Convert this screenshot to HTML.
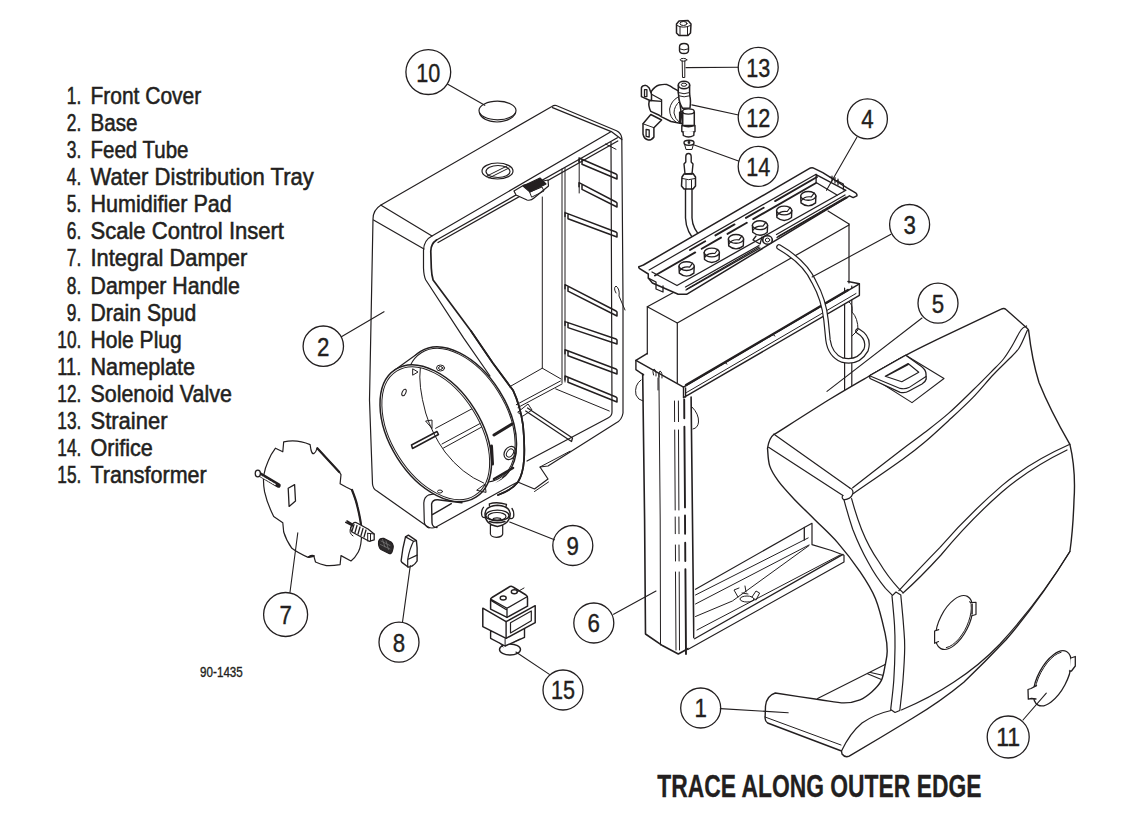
<!DOCTYPE html>
<html><head><meta charset="utf-8"><style>
html,body{margin:0;padding:0;background:#fff;}
svg{display:block;}
.lst text{font-family:"Liberation Sans",sans-serif;font-size:23.8px;fill:#231f20;stroke:#231f20;stroke-width:0.55px;}
.num text{font-family:"Liberation Sans",sans-serif;font-size:26.5px;fill:#231f20;stroke:#231f20;stroke-width:0.4px;}
.c circle{fill:none;stroke:#231f20;stroke-width:1.3;}
.ln{fill:none;stroke:#231f20;stroke-width:1.2;stroke-linejoin:round;stroke-linecap:round;}
.wf{fill:#fff;}
.th{fill:none;stroke:#231f20;stroke-width:1;stroke-linejoin:round;stroke-linecap:round;}
</style></head><body>
<svg width="1144" height="824" viewBox="0 0 1144 824">
<g class="lst">
<text x="66.8" y="103.7" textLength="14.5" lengthAdjust="spacingAndGlyphs">1.</text><text x="90.5" y="103.7" textLength="110.7" lengthAdjust="spacingAndGlyphs">Front Cover</text>
<text x="66.8" y="130.8" textLength="14.5" lengthAdjust="spacingAndGlyphs">2.</text><text x="90.5" y="130.8" textLength="47.0" lengthAdjust="spacingAndGlyphs">Base</text>
<text x="66.8" y="157.9" textLength="14.5" lengthAdjust="spacingAndGlyphs">3.</text><text x="90.5" y="157.9" textLength="98.0" lengthAdjust="spacingAndGlyphs">Feed Tube</text>
<text x="66.8" y="185.0" textLength="14.5" lengthAdjust="spacingAndGlyphs">4.</text><text x="90.5" y="185.0" textLength="223.3" lengthAdjust="spacingAndGlyphs">Water Distribution Tray</text>
<text x="66.8" y="212.1" textLength="14.5" lengthAdjust="spacingAndGlyphs">5.</text><text x="90.5" y="212.1" textLength="141.3" lengthAdjust="spacingAndGlyphs">Humidifier Pad</text>
<text x="66.8" y="239.2" textLength="14.5" lengthAdjust="spacingAndGlyphs">6.</text><text x="90.5" y="239.2" textLength="193.5" lengthAdjust="spacingAndGlyphs">Scale Control Insert</text>
<text x="66.8" y="266.4" textLength="14.5" lengthAdjust="spacingAndGlyphs">7.</text><text x="90.5" y="266.4" textLength="156.8" lengthAdjust="spacingAndGlyphs">Integral Damper</text>
<text x="66.8" y="293.5" textLength="14.5" lengthAdjust="spacingAndGlyphs">8.</text><text x="90.5" y="293.5" textLength="149.4" lengthAdjust="spacingAndGlyphs">Damper Handle</text>
<text x="66.8" y="320.6" textLength="14.5" lengthAdjust="spacingAndGlyphs">9.</text><text x="90.5" y="320.6" textLength="105.8" lengthAdjust="spacingAndGlyphs">Drain Spud</text>
<text x="57.3" y="347.7" textLength="24.0" lengthAdjust="spacingAndGlyphs">10.</text><text x="90.5" y="347.7" textLength="91.2" lengthAdjust="spacingAndGlyphs">Hole Plug</text>
<text x="57.3" y="374.8" textLength="24.0" lengthAdjust="spacingAndGlyphs">11.</text><text x="90.5" y="374.8" textLength="104.6" lengthAdjust="spacingAndGlyphs">Nameplate</text>
<text x="57.3" y="401.9" textLength="24.0" lengthAdjust="spacingAndGlyphs">12.</text><text x="90.5" y="401.9" textLength="141.3" lengthAdjust="spacingAndGlyphs">Solenoid Valve</text>
<text x="57.3" y="429.0" textLength="24.0" lengthAdjust="spacingAndGlyphs">13.</text><text x="90.5" y="429.0" textLength="77.0" lengthAdjust="spacingAndGlyphs">Strainer</text>
<text x="57.3" y="456.1" textLength="24.0" lengthAdjust="spacingAndGlyphs">14.</text><text x="90.5" y="456.1" textLength="62.3" lengthAdjust="spacingAndGlyphs">Orifice</text>
<text x="57.3" y="483.2" textLength="24.0" lengthAdjust="spacingAndGlyphs">15.</text><text x="90.5" y="483.2" textLength="116.1" lengthAdjust="spacingAndGlyphs">Transformer</text>
</g>
<g id="base" class="ln">
<!-- outer silhouette -->
<path d="M381,205 L551.9,106.4 Q554,105 556.2,105.5 L616.5,130.8 Q621,133 621.8,137.8 L623,300 L623,413 Q622,420 616,423 L548,466 L540,467 L548,479 L534.5,489 L517.7,482"/>
<path d="M381,205 Q373,210 373,219 L369.5,400 L372.5,484 Q373,489 377,491 L428,527"/>
<path d="M373.5,220 L424,249"/>
<path d="M381.5,205.5 L432,236 L611.3,131.6 L621.8,139.6 M552.5,107.6 L611.3,131.6"/>
<path d="M432,236 Q424,240 423.5,250 L423.5,268 Q423.8,276 425.8,280 L463.7,338.2 L490,376"/>
<path d="M436.5,240 Q430.5,244 430.8,252 L431.3,268 Q431.6,275 433.1,280 L471,331 L492.8,363 L513.2,390.6 Q520,405 523,425 Q525,445 524,460 Q523,474 518,482 Q512,490 498,495" style="stroke-width:1.7"/>
<path d="M436.5,240 L617.4,137.8 M438,242.5 L617.8,141" style="stroke-width:1.3"/>
<path d="M611,142 L612,412 Q612,416 608,418 L527,461"/>
<path d="M555.7,388.9 L609.3,411 M560.4,381 L516.3,404.7 M562,384 L518,407.5" class="th"/>
<path d="M525.7,411 L571.5,441.5 L572.5,438 L527.5,408" style="stroke-width:1.3"/>
<path d="M518,412 L528,404 L532,410 L523,416 Z" class="th"/>
<path d="M542.3,197 L542.3,368.2 L509.4,386.9" class="th"/>
<path d="M542.3,368.2 L561,379" class="th"/>
<path d="M562,169 L562,383 M565,168 L565,382" class="th"/>
<path d="M579.2,160 L579.2,193" class="th"/>
<path d="M605.6,144 L616,149.3" class="th"/>
<path d="M540,467 L570,451.2" class="th"/>
<path d="M534.5,491.5 L548.5,482" class="th"/>
<!-- bottom lip -->
<path d="M428,527 Q432,529 436,527 L499.5,491.7 L517.7,482"/>
<path d="M433.8,494 L429,494.8 Q424,497 423.8,503 L424.3,522 Q425,526.5 429,528" style="stroke-width:1.2"/>
<path d="M462,502.7 L437.7,499.8 Q432.5,499.5 431.6,504 L432,523 Q432.5,527.5 437,527.5 M432.8,514.4 L451.3,503.7" style="stroke-width:1.4"/>
<!-- latch -->
<path d="M514,191 L524,185 L548,180 L548.5,186 L534,198 Q531,201 527,200 L516,195 Z" fill="#fff"/>
<path d="M523,186 L540,178 L546,184 L530,192 Z" fill="#231f20"/>
<path d="M530,192 L542,187 L544,191 L532,197 Z" class="th"/>
<!-- drain hole top -->
<ellipse cx="497.5" cy="171" rx="15.5" ry="8"/>
<ellipse cx="498" cy="171.5" rx="12" ry="6"/>
<path d="M487,176 L507,166 M489,178 L509,168" class="th"/>
<!-- clip at right -->
<path d="M616,293 Q613,288 616,286 Q620,289 619,296 L625,310" class="th"/>
<!-- hole plug -->
<ellipse cx="497.5" cy="110.5" rx="18.5" ry="9.3" fill="#fff"/>
<path d="M479.5,113 Q482,121 497,122 Q512,121 515.5,113" />
<path d="M579,158 L616,174 L617,175 L617,179 L582,164.3 L582,160.3 M579,158 L579,162" style="stroke-width:1.5"/>
<path d="M579,182.7 L616,202 L617,203 L617,207 L582,189.3 L582,185.3 M579,182.7 L579,186.7" style="stroke-width:1.5"/>
<path d="M565,212.6 L616,232 L617,233 L617,237 L568,218.7 L568,214.7 M565,212.6 L565,216.6" style="stroke-width:1.5"/>
<path d="M565,284.7 L616,311 L617,312 L617,316 L568,291.2 L568,287.2 M565,284.7 L565,288.7" style="stroke-width:1.5"/>
<path d="M565,321.6 L616,339 L617,340 L617,344 L568,327.6 L568,323.6 M565,321.6 L565,325.6" style="stroke-width:1.5"/>
<path d="M565,349.7 L616,369 L617,370 L617,374 L568,355.8 L568,351.8 M565,349.7 L565,353.7" style="stroke-width:1.5"/>
<path d="M565,376 L616,397 L617,398 L617,402 L568,382.2 L568,378.2 M565,376 L565,380" style="stroke-width:1.5"/>
</g>

<g id="collar" class="ln">
<g transform="translate(25,-18)"><ellipse cx="435.75" cy="433.25" rx="75.4" ry="45.7" transform="rotate(57.8 435.75 433.25)" fill="#fff" style="stroke-width:1.5"/></g>
<polygon points="394.1,370.5 419.1,352.5 502.4,478.1 477.4,496.1" fill="#fff" stroke="none"/>
<path d="M394.1,370.5 L419.1,352.5"/>
<g transform="translate(25,-18)"><ellipse cx="435.75" cy="433.25" rx="73.9" ry="44.3" transform="rotate(57.8 435.75 433.25)" class="th"/></g>
<path d="M471,331 L492.8,363 L513.2,390.6 Q520,405 523,425 Q525,445 524,460 Q523,474 518,482 Q512,490 498,495" style="stroke-width:1.7"/>

<ellipse cx="435.75" cy="433.25" rx="75.4" ry="45.7" transform="rotate(57.8 435.75 433.25)" fill="#fff" style="stroke-width:1.5"/>
<ellipse cx="435.75" cy="433.25" rx="73.4" ry="43.8" transform="rotate(57.8 435.75 433.25)" class="th"/>
<clipPath id="cin"><ellipse cx="435.75" cy="433.25" rx="73.4" ry="43.8" transform="rotate(57.8 435.75 433.25)"/></clipPath>
<g clip-path="url(#cin)">
<path d="M420.3,368.2 Q418,385 425.7,413 Q432,434 445,452 Q462,474 483.6,483" class="th"/>
<path d="M435.6,428.3 L520,383" class="th"/>
<path d="M442,444 L520,402 M443.5,448 L520,406" class="th"/>
<path d="M411.5,445 L437,431.5 L438.5,434.5 L412.5,448.5 Z" class="th" style="stroke-width:1.5"/>
</g>
<ellipse cx="404" cy="392.5" rx="1.8" ry="3.5" transform="rotate(25 404 392.5)" class="th"/>
<ellipse cx="440.5" cy="368" rx="4" ry="3" class="th"/>
<ellipse cx="440.5" cy="368" rx="2" ry="1.5" class="th"/>
<path d="M413,369 L418,372 L413,375 Z" class="th"/>
<path d="M426,421 L432,420 L432,428 Z" class="th"/>
<path d="M477,490 L485,484 L486,492 Z" class="th"/>
<ellipse cx="440" cy="491.5" rx="2.5" ry="1.5" class="th"/>
<ellipse cx="510" cy="453" rx="5.5" ry="7" transform="rotate(35 510 453)"/>
<ellipse cx="510" cy="453" rx="3" ry="4.5" transform="rotate(35 510 453)" class="th"/>
<path d="M494,435 L512,424" style="stroke-width:3"/>
<path d="M492.5,464 L491.5,446" style="stroke-width:3"/>
<path d="M494,479 L513,468" style="stroke-width:2.5"/>
</g>

<g id="pad" class="ln">
<!-- pad box -->
<path class="wf" d="M647.3,306.8 L828,210 L849,222 L849,283 L683,387 L647.3,354 Z" style="stroke:none"/>
<path d="M647.3,306.8 L647.3,354 M677.3,323 L677.3,383 M849,224 L849,283"/>
<path d="M647.3,306.8 L677.3,323 L849,225 M647.3,306.8 L700,278 M828,211 L849,224"/>
</g>

<g id="insert" class="ln">
<!-- right post -->
<path d="M844.6,288 L844.6,392 M851.8,286 L851.8,392" />
<!-- left post -->
<path class="wf" d="M642.7,370 L645.5,634 L662.8,645.8 L678.3,654 L694.5,645 L691,397 L685.3,394 Z" style="stroke:none"/>
<path d="M642.7,374 L644.6,520 L645.5,634 L662.8,645.8 L678.3,654 L688.3,648.5" style="stroke-width:1.6"/>
<path d="M658.9,374 L660.2,520 L660.5,645" class="th"/>
<path d="M674.5,401 L674.6,421.6 M674.7,430 L675.2,510 M675.2,517 L675.3,533.7 M675.4,545 L675.5,561 M675.5,572 L676.0,650 M678.4,401 L678.5,421.6 M678.5,430 L678.9,510 M678.9,517 L679.0,533.7 M679.0,545 L679.1,561 M679.2,572 L679.5,650" class="th"/>
<path d="M684.2,399.5 L684.3,418.2 M684.4,426.7 L685.0,507.4 M685.0,515.5 L685.1,533.7 M685.2,542.8 L685.3,561 M685.4,569.2 L686.0,654" style="stroke-width:1.9"/>
<path d="M691.1,397 L693.8,637.6" style="stroke-width:1.6"/>
<path d="M641,380 Q634,385 636,395 Q638,400 643,401" class="th"/>
<path d="M692,407 Q699,414 698.5,422 Q698,428 693,429" class="th"/>
<!-- top rim -->
<path class="wf" d="M683.5,387.1 L859.4,283.8 L859.4,295.3 L683.5,397.7 Z" style="stroke:none"/>
<path d="M647,353.6 L635.9,360.4 L683.5,387.1 L859.4,283.8 L848,281.5" style="stroke-width:1.5"/>
<path d="M635.9,360.4 L635.9,369.7 L643.6,374.8 M683.5,387.1 L683.5,397.7 L859.4,295.3 L859.4,283.8 M685.6,388 L685.6,397" style="stroke-width:1.4"/>
<path d="M686,385 L848,290" style="stroke-width:2.2"/>
<path d="M686.5,392.5 L856,293.5" class="th"/>
<path d="M722,365 Q724,361 727,364 M770,337 Q772,333 775,336" class="th"/>
<path d="M653.5,375 Q652,371 654,369 Q656.5,370 656,376 M659,377 Q658,373 660,371 Q662.5,372 662,378 M658,378 L658,390" class="th"/>
<!-- bottom rail -->
<path class="wf" d="M695.5,589.3 L812,523.3 L844,555.3 L844,562 L687.8,649.5 L694.6,638.8 Z" style="stroke:none"/>
<path d="M695.5,589.3 L804.3,527.5 L812,523.3 L812,544.7 L831.5,550.5 L844,555.3 L844,562 L687.8,649.5"/>
<path d="M694.6,638.8 L843,554.4 M804.3,527.5 L804.3,540" style="stroke-width:1.3"/>
<path d="M695.5,595 L808.2,537.9 M695.5,604 L809,545 M695.5,616.5 L732.4,601 L809,545.6 M697,630 L840,555" class="th"/>
<path d="M742,593 L748,594 M738,597 L734,590 L739,588 M752,597 L756,591 L759.6,593 L756,600 M746,592 L745,586" class="th"/>
<ellipse cx="747" cy="599" rx="7" ry="3" class="th"/>
</g>

<g id="tube3" class="ln">
<path d="M779,247 Q805,262 814,282 Q824,300 826,320 L828,340 Q830,355 842,360 Q858,364 866,350 Q870,338 858,331" fill="none" style="stroke:#231f20;stroke-width:5.6"/>
<path d="M779,247 Q805,262 814,282 Q824,300 826,320 L828,340 Q830,355 842,360 Q858,364 866,350 Q870,338 858,331" fill="none" style="stroke:#fff;stroke-width:3.2"/>
<path d="M849,302 Q853,304 852,312 Q858,318 858,330 L852,336" class="th"/>
</g>

<g id="valve" class="ln" fill="#fff">
<!-- nut -->
<path d="M676.5,24 L679,21 L688,20.5 L691,24 L690.5,33 L688,35.5 L679,35.5 L676.5,33 Z" style="stroke-width:1.5"/>
<path d="M677,25.5 Q683,29 690.5,25.5 M680,26.5 L680,35 M687.5,26.5 L687.5,35" class="th"/>
<ellipse cx="683.5" cy="23.5" rx="3.5" ry="2" class="th"/>
<!-- ferrule -->
<path d="M679.5,47 Q679.5,43.5 684,43.5 Q688.5,43.5 688.5,47 L688.5,50.5 Q688.5,53.5 684,53.5 Q679.5,53.5 679.5,50.5 Z" style="stroke-width:1.4"/>
<path d="M680,49 Q684,51 688,49" class="th"/>
<!-- strainer -->
<ellipse cx="683.5" cy="59.8" rx="3.3" ry="1.4" class="th"/>
<path d="M682.2,61 L682.5,77.5 L684.8,77.5 L684.8,61" class="th"/>
<!-- coil body -->
<path class="wf" d="M651.5,91.2 Q655,86 659.3,85 Q664,84 667,84.6 Q670.5,86 673.3,88.1 L678.3,90.8 L682.6,123.8 L671,121.5 L661.6,116.8 L659.3,115.3 L650.8,111.4 Q648,106 649.2,101.3 Z" style="stroke-width:1.5"/>
<path d="M678,97 Q671,101 669.6,109 Q669.5,118 676,122 M680,101 Q674,106 674,113 Q675,119 679,122" class="th"/>
<!-- top ear -->
<path class="wf" d="M651.5,94.3 L649.2,88.1 Q646.5,85 644.5,85.4 Q641,86 641.4,89 L641.4,96.6 L650,100.5 L651.5,100.5 Z" style="stroke-width:1.5"/>
<path d="M644.5,89.7 L646.9,89.7 L646.9,96.6 L644.5,96.6 Z" class="th" style="stroke-width:1.3"/>
<path d="M651.5,94.3 L661.6,99.7 L661.6,115.3 M650,100.5 L661.6,101.3" style="stroke-width:1.3"/>
<!-- bottom ear -->
<path class="wf" d="M643,123.8 L650.8,114.5 L661.6,120 L653.9,127.7 L653.9,137 Q652,140 648.4,140.1 Q644,139 643,134 Z" style="stroke-width:1.5"/>
<path d="M643,123.8 L653.9,127.7" class="th"/>
<path d="M646.1,129.3 L649.2,130 L649.2,137 L646.1,136.3 Z" class="th" style="stroke-width:1.3"/>
<!-- inlet tube -->
<path class="wf" d="M678.3,85.4 L678.3,92.4 L678.7,96 Q679,103 682.6,108.3 L690,108 Q691,100 689.8,96 L689.6,92.4 L689.6,85.4 Z" style="stroke-width:1.5"/>
<ellipse cx="684" cy="85" rx="5.7" ry="3.8" class="wf" style="stroke-width:1.6"/>
<ellipse cx="684" cy="84.7" rx="2.7" ry="1.6" class="th"/>
<path d="M678.5,92.6 Q684,95 689.6,92.6 M678.7,95.8 Q684,98 689.8,95.8" class="th"/>
<!-- outlet -->
<path class="wf" d="M682.6,112 L682.6,125.4 L694.3,125.4 L694.3,112 Z" style="stroke-width:1.5"/>
<ellipse cx="688.4" cy="111.5" rx="5.8" ry="2.6" class="wf" style="stroke-width:1.4"/>
<path class="wf" d="M681.8,125.4 L681.8,131.6 Q688.4,134 695,131.6 L695,125.4 Q688.4,128 681.8,125.4 Z" style="stroke-width:1.4"/>
<path class="wf" d="M683,131.6 L683.3,135.5 Q688.4,138.5 693.8,135.5 L694,131.6" style="stroke-width:1.4"/>
<path d="M680.5,111 L682.6,112 L682.6,124 L680.5,123 Z M679.5,112 L679.5,123" class="th" style="stroke-width:1.2"/>
<!-- orifice -->
<ellipse cx="689" cy="142.8" rx="5" ry="2.5" style="stroke-width:1.4"/>
<path d="M684.5,144 L686,149.5 L692,149.5 L693.5,144" class="th"/>
<circle cx="689" cy="142.5" r="0.8" fill="#231f20"/>
<!-- fitting -->
<path d="M685.8,157 Q685.8,153.5 688.5,153.5 Q691.2,153.5 691.2,157 L691.2,162 L693,164 L692,174 L685,174 L684,164 L685.8,162 Z" style="stroke-width:1.4"/>
<path d="M682,177 L684,174 L693,173.5 L695.5,177 L695.5,186 L693,189 L684,189 L681.5,186 Z" style="stroke-width:1.5"/>
<path d="M682,178.5 Q688.5,181 695.5,178.5 M686,180 L686,189 M691.5,180 L691.5,189" class="th"/>
<!-- feed tube -->
<path d="M685.5,189 L685.5,218 Q686,232 697,243 M692,189 L692,218 Q692.5,229 702,238" fill="none" style="stroke-width:1.4"/>
</g>

<g id="tray" class="ln">
<path class="wf" d="M643.4,265 L808.3,169.1 Q811,167.5 813.1,167.9 L822.8,172.7 L847.1,187.9 L855.6,192.8 Q857.5,194.5 856.8,195.8 L853.2,197.6 L849.5,195.8 L686.6,294.3 L678.2,294.3 L652.4,283 L648.3,278.1 L648.3,274 L639.3,268.3 Q638,266.5 639.3,266.6 Z" style="stroke-width:1.5"/>
<path d="M649.1,269.9 L816.1,174.2" style="stroke-width:1.2"/>
<path d="M816.1,174.6 L816.1,182.5 L837.4,195.2 M816.1,174.6 L845.9,190.3 L677,285.5 L652,272" style="stroke-width:1.3"/>
<path d="M655.0,275.5 L695.2,252.4 M701.7,248.7 L721.0,237.6 M727.5,233.9 L746.8,222.8 M753.2,219.1 L816.0,183.0" style="stroke-width:1.9"/>
<path d="M690.0,250.0 L705.2,241.2 M715.4,235.4 L734.5,224.4 M745.9,217.9 L763.7,207.7 M775.1,201.1 L817.0,177.0" style="stroke-width:1.9"/>
<path d="M648.3,278.1 L656,282 L656,289 L663,292 L663,286" style="stroke-width:1.3"/>
<path d="M686,290 L760,248 M685.5,287 L759,245.5 M777,237.5 L847.1,197.6 M776.5,234.5 L845,195" style="stroke-width:1.3"/>
<path d="M687,289 L759,247 M778,236.5 L846,197" style="stroke-width:1.2;stroke-dasharray:0.8 0.8"/>
<path d="M830,177 L843.4,184 L843.4,190 M832,176 L832,181 M835,177.5 L835,183 M838,179 L838,185" class="th" style="stroke-width:1.2"/>
<path class="wf" d="M679.0,266.1 L679.3,273.1 Q686.6,279.1 693.9,273.1 L694.2,266.1" style="stroke-width:1.4"/>
<ellipse class="wf" cx="686.6" cy="266.1" rx="7.6" ry="4.4" style="stroke-width:1.4"/>
<path d="M679.5,271.1 Q682.6,266.1 689.6,267.1 L692.6,263.1" class="th" style="stroke-width:1.2"/>
<path class="wf" d="M704.2,252.5 L704.5,259.5 Q711.8,265.5 719.1,259.5 L719.4,252.5" style="stroke-width:1.4"/>
<ellipse class="wf" cx="711.8" cy="252.5" rx="7.6" ry="4.4" style="stroke-width:1.4"/>
<path d="M704.7,257.5 Q707.8,252.5 714.8,253.5 L717.8,249.5" class="th" style="stroke-width:1.2"/>
<path class="wf" d="M728.4,238.9 L728.7,245.9 Q736.0,251.9 743.3,245.9 L743.6,238.9" style="stroke-width:1.4"/>
<ellipse class="wf" cx="736.0" cy="238.9" rx="7.6" ry="4.4" style="stroke-width:1.4"/>
<path d="M728.9,243.9 Q732.0,238.9 739.0,239.9 L742.0,235.9" class="th" style="stroke-width:1.2"/>
<path class="wf" d="M752.4,225.2 L752.7,232.2 Q760.0,238.2 767.3,232.2 L767.6,225.2" style="stroke-width:1.4"/>
<ellipse class="wf" cx="760.0" cy="225.2" rx="7.6" ry="4.4" style="stroke-width:1.4"/>
<path d="M752.9,230.2 Q756.0,225.2 763.0,226.2 L766.0,222.2" class="th" style="stroke-width:1.2"/>
<path class="wf" d="M776.6,210.5 L776.9,217.5 Q784.2,223.5 791.5,217.5 L791.8,210.5" style="stroke-width:1.4"/>
<ellipse class="wf" cx="784.2" cy="210.5" rx="7.6" ry="4.4" style="stroke-width:1.4"/>
<path d="M777.1,215.5 Q780.2,210.5 787.2,211.5 L790.2,207.5" class="th" style="stroke-width:1.2"/>
<path class="wf" d="M800.7,195.9 L801.0,202.9 Q808.3,208.9 815.6,202.9 L815.9,195.9" style="stroke-width:1.4"/>
<ellipse class="wf" cx="808.3" cy="195.9" rx="7.6" ry="4.4" style="stroke-width:1.4"/>
<path d="M801.2,200.9 Q804.3,195.9 811.3,196.9 L814.3,192.9" class="th" style="stroke-width:1.2"/>
<ellipse cx="767.5" cy="240" rx="4.8" ry="4.2" class="wf" style="stroke-width:1.6"/>
<ellipse cx="767.5" cy="240" rx="2.2" ry="1.9" class="th"/>
<path d="M753,240 L760,244 L762,237 M756,236 L753,240" class="th" style="stroke-width:1.3"/>
</g>
<g id="cover" class="ln">
<path class="wf" d="M774.6,434.2 C783.6,428.5 814.3,408.8 828.5,400.0 C842.7,391.2 847.1,388.8 860.0,381.3 C872.9,373.9 892.4,362.5 905.7,355.3 C919.0,348.1 924.1,345.8 940.0,338.1 C955.9,330.4 991.0,314.0 1001.2,309.2 Q1004,307.5 1006,309.5 L1027.4,328.5 Q1029,330 1028.7,331.1 Q1032,360 1039,382.5 Q1050,410 1069.9,444.3 Q1076,470 1074,500 Q1073,530 1069.9,551.5 Q1040,600 1006,639.8 Q985,662 963.8,682.3 Q940,702 912.9,718 Q880,738 849.2,756.2 Q845,758 842,754 L841.5,751 L767.6,723 Q765,721 765.1,718 L765.5,706 Q766.4,696 775.3,693 C782.5,694.1 807.0,697.9 818.5,699.5 C830.0,701.1 837.1,702.9 844.0,702.9 C850.9,702.9 855.4,701.6 860.0,699.8 C864.6,698.0 868.1,695.2 871.7,692.0 C875.3,688.8 879.1,684.9 881.4,680.4 C883.6,675.9 884.2,669.8 885.2,664.9 C886.2,660.0 887.2,656.5 887.2,651.3 C887.2,646.1 887.2,642.5 885.2,633.8 C883.2,625.0 879.7,609.1 875.5,598.8 C871.3,588.4 866.4,581.1 860.0,571.7 C853.6,562.3 844.8,550.9 837.4,542.4 C830.0,533.9 822.9,527.8 815.6,520.5 C808.3,513.2 799.9,505.2 793.7,498.7 C787.5,492.1 782.4,486.7 778.4,481.2 C774.4,475.7 771.5,471.4 769.7,465.9 C767.9,460.4 767.9,451.3 767.5,448.4 Q769,438 774,434.2 Z" style="stroke-width:1.4"/>
<path d="M774,434.2 L849.5,487.8 M768.6,447.3 L842.9,495.4"/>
<path d="M849.5,487.8 Q854,490 852.7,494 Q851,499 844,499.8 Q841,498 842.9,495.4"/>
<path d="M852.7,487.8 C860.6,481.7 888.1,460.2 900.0,451.0 C911.9,441.8 916.2,439.1 924.3,432.8 C932.4,426.5 940.4,420.5 948.5,413.4 C956.6,406.3 965.7,397.2 972.8,390.3 C979.9,383.4 985.9,377.3 991.0,372.1 C996.1,366.9 1000.0,363.4 1003.5,359.0 C1007.0,354.6 1009.1,350.8 1012.0,346.0 C1014.9,341.2 1018.6,333.3 1021.0,330.0 C1023.4,326.7 1025.7,326.7 1026.6,326.0"/>
<path d="M853.5,493.5 C861.6,487.8 890.6,468.0 902.4,459.5 C914.2,451.0 916.6,449.0 924.3,442.5 C932.0,436.0 940.4,428.2 948.5,420.7 C956.6,413.2 965.4,405.2 972.8,397.6 C980.2,390.0 987.1,381.3 993.0,375.0 C998.9,368.7 1003.6,364.5 1008.0,360.0 C1012.4,355.5 1015.9,353.0 1019.1,348.0 C1022.3,343.0 1026.0,333.2 1027.4,330.2"/>
<path d="M844,499.8 Q848,515 852.7,529.3 Q860,548 868,562 Q876,577 885.5,588.3 L892,594.9"/>
<path d="M851.6,498.7 Q856,515 861.5,529.3 Q869,548 879,562 Q888,577 898.6,588.3 L903,592.7"/>
<path d="M1069.9,444.3 Q1030,462 1001.9,485.6 Q968,515 940,547.4 Q918,570 898.9,590.6"/>
<path d="M1067,450 Q1030,468 1002,492 Q970,520 941,555 Q920,578 903,593"/>
<path d="M892.0,595.9 C892.4,600.8 894.0,616.4 894.5,625.0 C895.0,633.6 895.1,638.2 895.0,647.4 C894.9,656.6 894.5,669.6 893.8,680.0 C893.1,690.4 891.2,704.6 890.7,709.5 M900.8,595.0 C901.2,600.0 902.9,616.3 903.5,625.0 C904.1,633.7 904.8,638.2 904.7,647.4 C904.6,656.6 903.8,669.5 903.0,680.0 C902.2,690.5 900.3,705.4 899.8,710.5 M892,595.9 L896,592 L900.8,595 M890.7,709.5 L895,712.5 L899.8,710.5"/>
<path d="M841.5,751 Q850,733 862,723 Q875,714 891,710.5 M901.4,710 Q930,698 953.6,682.3 Q980,665 1000,644 Q1040,600 1069.9,551.5"/>
<path d="M765,717 L841,745" class="th"/>
<path d="M817.6,698.6 L885.6,664.2 M869.5,672.3 L882.6,675.3 M866.9,673.6 L881.4,679.5" class="th" style="stroke-width:1.1"/>
<!-- top tab -->
<path d="M869.5,375.8 L905.7,355.3 L944,378.5 L912,402.6 Z" class="th" style="stroke-width:1.1"/>
<path class="wf" d="M869.5,375.8 L905.7,355.3 L921.5,366.5 Q926,370 926,374 L926.2,379 Q925.5,382 922,384 L909,391 Q905,393.5 900.2,392.3 L870,378.5 Z" style="stroke-width:1.3"/>
<path d="M869.5,375.8 L900.2,388.4 Q905,389.5 908.9,387.6 L926,376.5" class="th" style="stroke-width:1.1"/>
<path d="M885.2,376.2 L908.1,363.5 L918.8,372.2 L901.8,381.7 Z M887.5,375.5 L908,364.8" class="th" style="stroke-width:1.1"/>
<!-- hole -->
<ellipse cx="954.1" cy="622.5" rx="29.3" ry="14.5" transform="rotate(-63 954.1 622.5)" class="wf" style="stroke-width:1.2"/>
<path d="M946.3,647.6 L949.3,646.6 L952.4,644.8 L955.6,642.2 L958.8,638.9 L961.7,635.0 L964.5,630.7 L966.8,626.1 L968.7,621.3 L970.1,616.6 L970.9,612.1 L971.2,608.0 L970.8,604.4 L969.8,601.4" class="th" style="stroke-width:1"/>
<path class="wf" d="M970.5,602.5 L976,602.3 L976,614.5 L971,616" style="stroke-width:1.2"/>
<path d="M972,604 L972,614" style="stroke-width:1.6"/>
<path class="wf" d="M938.7,629.6 L934.6,631 L934.6,643.3 L938.5,641.5" style="stroke-width:1.2"/>
</g>

<g id="damper" class="ln">
<path class="wf" d="M283.7,441.8 Q297.3,439 310.1,444.6 L311,450 Q312,454 313.7,453.7 Q316,452 316.4,450 L317.3,448.2 L339.2,471.9 L341,474.6 L340.1,483.7 L346.5,487.3 L352,490 Q355,497 357.4,506.4 Q361,521 361.5,530 Q362,545 358.3,552 Q355,558 351,561 L341,555.6 L340.1,564.7 Q332,566 326.4,565.6 Q320,564 315.5,562 L313.7,555.6 Q311,555 309.2,556.5 L308.2,557.4 Q298,553 291.9,548.3 Q286,540 283.7,532 L282.8,522.8 L273.7,516.5 Q267,503 264.6,491.9 Q263,483 263.7,475.5 Q265,468 268.2,461 Q271,454 275.5,448.2 L282.8,451.8 Z" style="stroke-width:1.2"/>
<path d="M317.3,448.2 L339.2,471.9 M352,490 Q356,500 357.4,506.4 Q361,521 361.5,530 M313.7,556 L309,557" style="stroke-width:2.2"/>
<path d="M257.5,473 L278.5,485.5" style="stroke:#231f20;stroke-width:4.5"/>
<path d="M259,475 L276,485" style="stroke:#fff;stroke-width:1.5;stroke-dasharray:1 1.2"/>
<ellipse cx="257.8" cy="473.5" rx="2.6" ry="3.3" class="wf" style="stroke-width:1.3"/>
<path d="M288.2,488.2 L294.6,484.6 L295.5,501 L289.1,506.4 Z" style="stroke-width:1.3"/>
<!-- pivot/shaft -->
<path class="wf" d="M353,523.5 Q355,521.5 357,523 L368,529 L374.2,534 L374.2,539.8 L369.1,541.3 L352,532 Q349,528 353,523.5 Z" style="stroke-width:1.3"/>
<path d="M345.8,522.4 L353,526 M347,521 L352,524" style="stroke-width:1.6"/>
<path d="M354,524.5 L352,531 M357,525.5 L355,532.5 M360,527 L358,534 M363,528.5 L361,535.5 M366,530 L364,537" class="th" style="stroke-width:1.3"/>
<path d="M367.7,533.3 L374.2,534 M367.7,533.3 L367.7,541 M370.5,534 L370.5,541" class="th"/>
<path d="M351,527 Q348,533 353,536" class="th"/>
<!-- spring -->
<path d="M378.6,541.3 Q379.5,538 383.7,538.4 L391,542 Q394.5,545 392.4,550.8 Q391.5,554 389.5,553.7 L381,549.5 Q378,547 378.6,541.3 Z" fill="#2d2a2b" style="stroke-width:1.2"/>
<path d="M381,541 L390,545.5 M380.5,544.5 L390,549 M382.5,539.5 L385,547 M386,541 L388.5,549.5" style="stroke:#888;stroke-width:0.6"/>
<!-- handle -->
<path class="wf" d="M405.5,536.9 L408.4,535.1 L416.4,540.6 Q417.5,548 417.1,555.1 L417.1,561 Q415,564.5 412,566 Q409.5,567.5 407.7,566.8 L401.9,562.4 L401.1,561 Q402.5,548 405.5,536.9 Z" style="stroke-width:1.4"/>
<path d="M405.5,536.9 L413.5,541.3 L416.4,540.6 M413.5,541.3 Q409.5,549 407.7,559.5 L407.7,566.8 M407.7,559.5 L417.1,555.1" style="stroke-width:1.2"/>
</g>

<g id="misc" class="ln">
<!-- drain spud -->
<path class="wf" d="M490.4,525 L490.4,534 Q491,537 496.5,537.3 Q502,537 502.7,534 L502.7,525 Z" style="stroke-width:1.2"/>
<path class="wf" d="M485,513.6 Q485.5,506 497.4,505.3 Q509.5,506 510.2,513.6 Q510,524.5 497.4,526.4 Q485,524.5 485,513.6 Z" style="stroke-width:1.5"/>
<ellipse cx="497.4" cy="515.4" rx="11.6" ry="5.3" class="th" style="stroke-width:1.4"/>
<ellipse cx="497" cy="516.5" rx="9" ry="4" class="th" style="stroke-width:1.2"/>
<ellipse cx="497" cy="519" rx="3.8" ry="1.2" class="th" style="stroke-width:1.2"/>
<path d="M489.5,521.5 Q497,524 505,521.5" class="th" style="stroke-width:1.5"/>
<path d="M489.3,503.8 Q497,501.5 506.5,504.3 M489.3,503.8 L489.5,506 M506.5,504.3 L506,506.5" style="stroke-width:1.3"/>
<path d="M483.5,507.3 Q480.5,511 482,516 Q483,518 485,517.5 M512,508.5 Q514.5,512 513.5,517 Q512.5,519 510.5,518.5" style="stroke-width:1.3"/>
<!-- transformer -->
<ellipse cx="510" cy="649.5" rx="10.5" ry="5.5" class="wf" style="stroke-width:1.4"/>
<path class="wf" d="M490.6,631.5 L490.6,638.3 L505.1,646 L524.5,637.3 L524.5,628 Z" style="stroke-width:1.4"/>
<path d="M505.1,639 L505.1,646 M500,643 L503,647 M514,642 L520,639" class="th"/>
<path class="wf" d="M482.8,608.2 L506.1,621.7 L535.2,605.7 L535.2,622.7 L506.1,638.3 L482.8,626.6 Z" style="stroke-width:1.5"/>
<path d="M506.1,621.7 L506.1,638.3" style="stroke-width:1.4"/>
<path d="M510.5,622.7 L531.3,611 L531.3,620.8 L510.5,632.9 Z" class="th" style="stroke-width:1.2"/>
<path class="wf" d="M490.6,600 Q490.6,598 492,597.5 L510,586.5 Q511.5,586 513,587 L526,595 Q527.5,596 527.5,598 L527.5,606.2 L507,617.4 L490.6,609.1 Z" style="stroke-width:1.5"/>
<path d="M490.6,599 L507,608.2 L527.5,596.5 M507,608.2 L507,617.4 M491,600.5 L506,609.5" style="stroke-width:1.3"/>
<ellipse cx="503.2" cy="598" rx="3" ry="2" class="th" style="stroke-width:1.4"/><ellipse cx="514.3" cy="591.7" rx="3" ry="2" class="th" style="stroke-width:1.4"/>
<path d="M517,592 L524,588" class="th"/>
<!-- nameplate -->
<ellipse cx="1052.3" cy="678.3" rx="30.3" ry="14.2" transform="rotate(-62 1052.3 678.3)" class="wf" style="stroke-width:1.3"/>
<path d="M1061.1,652.3 L1057.8,653.5 L1054.3,655.7 L1050.7,658.9 L1047.1,662.9 L1043.8,667.6 L1040.8,672.7 L1038.3,678.0 L1036.4,683.4 L1035.2,688.5 L1034.7,693.2 L1034.9,697.3" class="th" style="stroke-width:1"/>
<path class="wf" d="M1071,658 L1075.3,656.5 L1075.3,666 L1071.5,671 L1069.5,671" style="stroke-width:1.3"/>
<path class="wf" d="M1036.5,685.6 L1031,688.5 L1028,689.5 L1028.3,699.2 L1031.5,698.5 L1036,699" style="stroke-width:1.3"/>
</g>

<g id="leaders" class="ln" style="stroke-width:1.1">
<path d="M341.4,336.8 L384,311.7"/>
<path d="M447.8,84.3 L484.8,105.3"/>
<path d="M738.2,67.3 L686,67.6"/>
<path d="M738.5,115 L691.8,104.9"/>
<path d="M738.5,161 L692.9,144.6"/>
<path d="M856.9,137.2 L826.5,190.3"/>
<path d="M891,234.3 L812.1,276.9"/>
<path d="M922,318 L827,391.4"/>
<path d="M613.6,614.3 L656,591"/>
<path d="M554.4,539.7 L509.7,522.1"/>
<path d="M290,592.3 L297.8,532.8"/>
<path d="M402.5,622.1 L410.3,565.6"/>
<path d="M549.4,674.4 L515.9,652"/>
<path d="M720.3,708.6 L788.2,712.7"/>
<path d="M1023,720 L1046.3,693.2"/>
</g>

<g class="c">
<circle cx="323.3" cy="346.2" r="20.2"/><circle cx="428.3" cy="72.1" r="22.4"/><circle cx="758.2" cy="67.3" r="20"/><circle cx="758.2" cy="117.3" r="20"/><circle cx="758.2" cy="166.4" r="20"/><circle cx="867.4" cy="118.9" r="20"/><circle cx="909.6" cy="224.5" r="20"/><circle cx="938" cy="303.2" r="20"/><circle cx="572.8" cy="545.5" r="20"/><circle cx="285.6" cy="614.5" r="22"/><circle cx="399" cy="642.2" r="20"/><circle cx="593.8" cy="623" r="20"/><circle cx="563" cy="690" r="20"/><circle cx="700.7" cy="708" r="20"/><circle cx="1008.2" cy="737" r="21"/>
</g>
<g class="num">
<text x="317.1" y="355.6" textLength="12.4" lengthAdjust="spacingAndGlyphs">2</text><text x="416.3" y="81.5" textLength="24" lengthAdjust="spacingAndGlyphs">10</text><text x="746.2" y="76.7" textLength="24" lengthAdjust="spacingAndGlyphs">13</text><text x="746.2" y="126.7" textLength="24" lengthAdjust="spacingAndGlyphs">12</text><text x="746.2" y="175.8" textLength="24" lengthAdjust="spacingAndGlyphs">14</text><text x="861.2" y="128.3" textLength="12.4" lengthAdjust="spacingAndGlyphs">4</text><text x="903.4" y="233.9" textLength="12.4" lengthAdjust="spacingAndGlyphs">3</text><text x="931.8" y="312.6" textLength="12.4" lengthAdjust="spacingAndGlyphs">5</text><text x="566.6" y="554.9" textLength="12.4" lengthAdjust="spacingAndGlyphs">9</text><text x="279.4" y="623.9" textLength="12.4" lengthAdjust="spacingAndGlyphs">7</text><text x="392.8" y="651.6" textLength="12.4" lengthAdjust="spacingAndGlyphs">8</text><text x="587.6" y="632.4" textLength="12.4" lengthAdjust="spacingAndGlyphs">6</text><text x="551.0" y="699.4" textLength="24" lengthAdjust="spacingAndGlyphs">15</text><text x="694.5" y="717.4" textLength="12.4" lengthAdjust="spacingAndGlyphs">1</text><text x="996.2" y="746.4" textLength="24" lengthAdjust="spacingAndGlyphs">11</text>
</g>
<text x="200.1" y="677.2" textLength="42.7" lengthAdjust="spacingAndGlyphs" style="font-family:'Liberation Sans',sans-serif;font-size:14px;fill:#231f20;stroke:#231f20;stroke-width:0.35px">90-1435</text>
<text x="657.3" y="796.6" textLength="324.1" lengthAdjust="spacingAndGlyphs" style="font-family:'Liberation Sans',sans-serif;font-weight:bold;font-size:32px;fill:#231f20;stroke:#231f20;stroke-width:0.3px">TRACE ALONG OUTER EDGE</text>
</svg>
</body></html>
